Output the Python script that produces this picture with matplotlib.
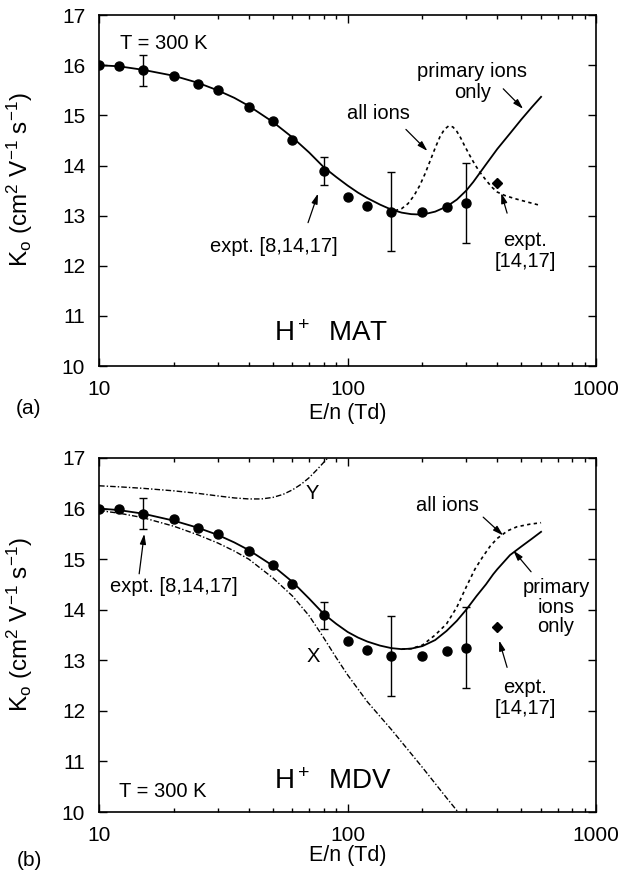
import numpy as np
import matplotlib
matplotlib.use("Agg")
import matplotlib.pyplot as plt

plt.rcParams['font.family'] = ['Liberation Sans', 'DejaVu Sans']
plt.rcParams['mathtext.fontset'] = 'custom'
plt.rcParams['mathtext.rm'] = 'Liberation Sans'
plt.rcParams['mathtext.it'] = 'Liberation Sans:italic'

# experimental points, same in both panels
E_expt = [10, 12, 15, 20, 25, 30, 40, 50, 60, 80, 100, 120, 150, 200, 250, 300]
K_expt = [16.0, 15.99, 15.9, 15.79, 15.62, 15.5, 15.16, 14.88, 14.5, 13.89,
          13.38, 13.2, 13.08, 13.08, 13.18, 13.25]
E_err = [15, 80, 150, 300]
K_err = [15.9, 13.89, 13.08, 13.25]
dK_err = [0.31, 0.27, 0.79, 0.8]
E_diam = [400]
K_diam = [13.65]

# (a) MAT
E_mat_prim = [10, 12, 15, 20, 25, 30, 35, 40, 50, 60, 70, 80, 90, 100, 110, 120, 135,
              150, 165, 180, 200, 225, 250, 275, 300, 320, 340, 360, 400, 450, 500, 550, 600]
K_mat_prim = [16.0, 15.98, 15.91, 15.79, 15.65, 15.5, 15.35, 15.19, 14.87, 14.56, 14.26,
              13.97, 13.77, 13.6, 13.46, 13.35, 13.22, 13.12, 13.06, 13.03, 13.02, 13.08,
              13.18, 13.32, 13.5, 13.67, 13.85, 14.02, 14.33, 14.64, 14.92, 15.16, 15.37]
E_mat_all = [155, 165, 175, 185, 195, 205, 215, 225, 235, 245, 255, 265, 275, 285, 295,
             310, 325, 340, 360, 380, 400, 430, 470, 530, 600]
K_mat_all = [13.1, 13.14, 13.24, 13.4, 13.6, 13.84, 14.1, 14.35, 14.57, 14.72, 14.79,
             14.77, 14.68, 14.55, 14.4, 14.2, 14.02, 13.87, 13.71, 13.57, 13.47, 13.4,
             13.34, 13.27, 13.2]

# (b) MDV
E_mdv_prim = [10, 12, 15, 20, 25, 30, 35, 40, 50, 60, 70, 80, 90, 100, 110, 120, 135,
              150, 165, 180, 200, 225, 250, 275, 300, 330, 360, 385, 400, 450, 500, 550, 600]
K_mdv_prim = [16.0, 15.97, 15.9, 15.76, 15.62, 15.48, 15.33, 15.18, 14.87, 14.55, 14.22,
              13.92, 13.72, 13.56, 13.45, 13.37, 13.29, 13.24, 13.22, 13.23, 13.28, 13.4,
              13.58, 13.78, 14.0, 14.27, 14.5, 14.7, 14.8, 15.08, 15.25, 15.4, 15.54]
E_mdv_all = [165, 180, 200, 225, 250, 275, 300, 325, 350, 375, 400, 440, 480, 540, 600]
K_mdv_all = [13.22, 13.23, 13.3, 13.5, 13.72, 14.05, 14.45, 14.8, 15.05, 15.26, 15.41,
             15.56, 15.64, 15.69, 15.72]
E_X = [10, 12, 15, 20, 25, 30, 35, 40, 50, 60, 70, 80, 90, 100, 120, 150, 200, 250, 300]
K_X = [15.96, 15.91, 15.82, 15.65, 15.48, 15.32, 15.16, 15.0, 14.63, 14.27, 13.88, 13.45,
       13.05, 12.71, 12.18, 11.63, 10.88, 10.28, 9.8]
E_Y = [10, 12, 15, 20, 25, 30, 35, 40, 45, 50, 55, 60, 65, 70, 75, 80, 85]
K_Y = [16.45, 16.43, 16.4, 16.35, 16.3, 16.25, 16.21, 16.19, 16.19, 16.22, 16.28, 16.37,
       16.48, 16.61, 16.76, 16.91, 17.05]

fig = plt.figure(figsize=(6.23, 8.75), dpi=100)
ax1 = fig.add_axes([0.159, 0.5817, 0.798, 0.401])
ax2 = fig.add_axes([0.159, 0.072, 0.798, 0.4046])

arrow = dict(arrowstyle='-|>,head_length=0.6,head_width=0.18', color='k', lw=0.9,
             shrinkA=0, shrinkB=0)
fs_txt = 14.5


def base(ax):
    ax.set_xscale('log')
    ax.set_xlim(10, 1000)
    ax.set_ylim(10, 17)
    ax.set_yticks(range(10, 18))
    ax.set_xticks([10, 100, 1000])
    ax.set_xticklabels(['10', '100', '1000'])
    ax.tick_params(which='both', direction='in', top=True, right=True, labelsize=15,
                   width=1.0)
    ax.tick_params(which='major', length=6)
    ax.tick_params(axis='x', which='major', pad=10)
    ax.tick_params(axis='y', which='major', pad=10)
    ax.tick_params(which='minor', length=3)
    for s in ax.spines.values():
        s.set_linewidth(1.2)
    ax.set_xlabel('E/n (Td)', fontsize=15.5)
    ax.set_ylabel(r'K$_\mathregular{o}$ (cm$^\mathregular{2}$ V$^\mathregular{-1}$ s$^\mathregular{-1}$)',
                  fontsize=17.5)
    ax.yaxis.set_label_coords(-0.128, 0.53)
    ax.plot(E_expt, K_expt, 'o', color='k', ms=6.5, zorder=5)
    ax.errorbar(E_err, K_err, yerr=dK_err, fmt='none', ecolor='k', elinewidth=1.0,
                capsize=3.2, capthick=1.0, zorder=4)
    ax.plot(E_diam, K_diam, 'D', color='k', ms=5, zorder=5)


base(ax1)
ax1.xaxis.set_label_coords(0.5, -0.105)
ax1.plot(E_mat_prim, K_mat_prim, '-', color='k', lw=1.3)
ax1.plot(E_mat_all, K_mat_all, color='k', lw=1.2, dashes=(2, 2))
ax1.text(0.043, 0.92, 'T = 300 K', transform=ax1.transAxes, fontsize=fs_txt, va='center')
ax1.text(0.352, 0.07, r'H$^+$  MAT', transform=ax1.transAxes, fontsize=20, va='baseline')
ax1.text(50.4, 12.38, 'expt. [8,14,17]', fontsize=fs_txt, ha='center', va='center')
ax1.annotate('', xy=(76, 13.44), xytext=(69.3, 12.86), arrowprops=arrow)
ax1.text(132.8, 15.04, 'all ions', fontsize=fs_txt, ha='center', va='center')
ax1.annotate('', xy=(209.4, 14.29), xytext=(171.6, 14.72), arrowprops=arrow)
ax1.text(317, 15.67, 'primary ions\nonly', fontsize=fs_txt, ha='center', va='center',
         linespacing=1.15)
ax1.annotate('', xy=(508, 15.13), xytext=(422.7, 15.53), arrowprops=arrow)
ax1.text(517, 12.29, 'expt.\n[14,17]', fontsize=fs_txt, ha='center', va='center',
         linespacing=1.15)
ax1.annotate('', xy=(415, 13.45), xytext=(438, 13.05), arrowprops=arrow)
fig.text(16 / 623, 1 - 408 / 875, '(a)', fontsize=15, va='center')

base(ax2)
ax2.xaxis.set_label_coords(0.5, -0.093)
ax2.plot(E_mdv_prim, K_mdv_prim, '-', color='k', lw=1.3)
ax2.plot(E_mdv_all, K_mdv_all, color='k', lw=1.2, dashes=(2, 2))
ax2.plot(E_X, K_X, color='k', lw=1.0, dashes=(4, 1.5, 1, 1.5))
ax2.plot(E_Y, K_Y, color='k', lw=1.0, dashes=(4, 1.5, 1, 1.5))
ax2.text(73, 13.07, 'X', fontsize=fs_txt, ha='center', va='center')
ax2.text(72, 16.3, 'Y', fontsize=fs_txt, ha='center', va='center')
ax2.text(0.04, 0.059, 'T = 300 K', transform=ax2.transAxes, fontsize=fs_txt, va='center')
ax2.text(0.352, 0.064, r'H$^+$  MDV', transform=ax2.transAxes, fontsize=20, va='baseline')
ax2.text(20, 14.45, 'expt. [8,14,17]', fontsize=fs_txt, ha='center', va='center')
ax2.annotate('', xy=(15.2, 15.5), xytext=(14.5, 14.71), arrowprops=arrow)
ax2.text(251, 16.07, 'all ions', fontsize=fs_txt, ha='center', va='center')
ax2.annotate('', xy=(422, 15.47), xytext=(351, 15.83), arrowprops=arrow)
ax2.text(689, 14.05, 'primary\nions\nonly', fontsize=fs_txt, ha='center', va='center',
         linespacing=1.05)
ax2.annotate('', xy=(464, 15.17), xytext=(547, 14.75), arrowprops=arrow)
ax2.text(517, 12.25, 'expt.\n[14,17]', fontsize=fs_txt, ha='center', va='center',
         linespacing=1.15)
ax2.annotate('', xy=(407, 13.39), xytext=(438, 12.86), arrowprops=arrow)
fig.text(17 / 623, 1 - 860 / 875, '(b)', fontsize=15, va='center')

fig.savefig('out.png', dpi=100)
